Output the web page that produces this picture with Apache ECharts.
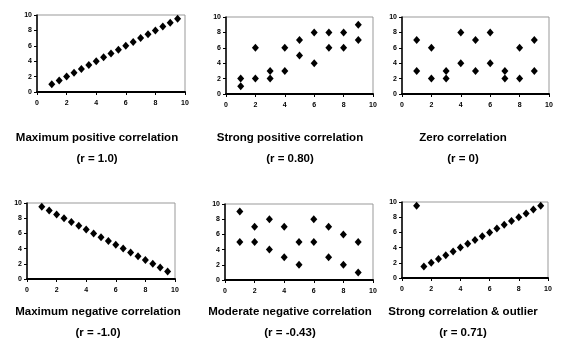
<!DOCTYPE html>
<html>
<head>
<meta charset="utf-8">
<script src="https://cdn.jsdelivr.net/npm/echarts@6/dist/echarts.min.js"></script>
<style>
  html, body { margin: 0; padding: 0; background: #fff; }
  #chart { width: 562px; height: 352px; }
</style>
</head>
<body>
<div id="chart"></div>
<script>
  // panel data
  var maxPositive = [[1,1],[1.5,1.5],[2,2],[2.5,2.5],[3,3],[3.5,3.5],[4,4],[4.5,4.5],[5,5],
    [5.5,5.5],[6,6],[6.5,6.5],[7,7],[7.5,7.5],[8,8],[8.5,8.5],[9,9],[9.5,9.5]]
  var strongPositive = [[1,2],[1,1],[2,6],[2,2],[3,3],[3,2],[4,6],[4,3],[5,7],[5,5],
    [6,8],[6,4],[7,8],[7,6],[8,8],[8,6],[9,9],[9,7]]
  var zeroCorr = [[1,7],[1,3],[2,6],[2,2],[3,3],[3,2],[4,8],[4,4],[5,7],[5,3],
    [6,8],[6,4],[7,3],[7,2],[8,6],[8,2],[9,7],[9,3]]
  var maxNegative = [[1,9.5],[1.5,9],[2,8.5],[2.5,8],[3,7.5],[3.5,7],[4,6.5],[4.5,6],[5,5.5],
    [5.5,5],[6,4.5],[6.5,4],[7,3.5],[7.5,3],[8,2.5],[8.5,2],[9,1.5],[9.5,1]]
  var moderateNegative = [[1,9],[1,5],[2,7],[2,5],[3,8],[3,4],[4,7],[4,3],[5,5],[5,2],
    [6,8],[6,5],[7,7],[7,3],[8,6],[8,2],[9,5],[9,1]]
  var withOutlier = [[1,9.5],[1.5,1.5],[2,2],[2.5,2.5],[3,3],[3.5,3.5],[4,4],[4.5,4.5],[5,5],
    [5.5,5.5],[6,6],[6.5,6.5],[7,7],[7.5,7.5],[8,8],[8.5,8.5],[9,9],[9.5,9.5]]

  var titles = ['Maximum positive correlation', 'Strong positive correlation', 'Zero correlation',
    'Maximum negative correlation', 'Moderate negative correlation', 'Strong correlation & outlier']
  var rValues = ['(r = 1.0)', '(r = 0.80)', '(r = 0)', '(r = -1.0)', '(r = -0.43)', '(r = 0.71)']
  var panels = [maxPositive, strongPositive, zeroCorr, maxNegative, moderateNegative, withOutlier]

  // layout of each plot box (pixels)
  var boxes = [
    {left: 37, top: 15, width: 148, height: 77},
    {left: 226, top: 17, width: 147, height: 77},
    {left: 402, top: 17, width: 147, height: 77},
    {left: 27, top: 203, width: 148, height: 76},
    {left: 225, top: 204, width: 148, height: 76},
    {left: 402, top: 202, width: 146, height: 76}
  ]
  var titlePos = [[97, 132], [290, 132], [463, 132], [98, 306], [290, 306], [463, 306]]

  var chart = echarts.init(document.getElementById('chart'))
  var tickFont = {fontSize: 7, fontWeight: 'bold', color: '#000', fontFamily: 'Liberation Sans'}
  var headFont = {fontSize: 11.5, fontWeight: 'bold', color: '#000', fontFamily: 'Liberation Sans'}

  var grid = [], xAxis = [], yAxis = [], series = [], title = []
  panels.forEach(function (data, i) {
    grid.push(Object.assign({show: true, borderColor: '#999', borderWidth: 1, backgroundColor: '#fff'}, boxes[i]))
    xAxis.push({
      gridIndex: i, type: 'value', min: 0, max: 10, interval: 2,
      axisLine: {lineStyle: {color: '#000', width: 2}},
      axisTick: {show: true, length: 3, lineStyle: {color: '#000'}},
      splitLine: {show: false},
      axisLabel: Object.assign({margin: 8}, tickFont)
    })
    yAxis.push({
      gridIndex: i, type: 'value', min: 0, max: 10, interval: 2,
      axisLine: {show: true, lineStyle: {color: '#000', width: 1.5}},
      axisTick: {show: true, length: 3, lineStyle: {color: '#000'}},
      splitLine: {show: false},
      axisLabel: Object.assign({margin: 5}, tickFont)
    })
    series.push({
      type: 'scatter', xAxisIndex: i, yAxisIndex: i,
      symbol: 'diamond', symbolSize: [7, 8],
      itemStyle: {color: '#000', opacity: 1},
      data: data
    })
    title.push({
      text: titles[i], subtext: rValues[i],
      left: titlePos[i][0], top: titlePos[i][1], textAlign: 'center',
      padding: 0, itemGap: 9,
      textStyle: headFont,
      subtextStyle: headFont
    })
  })

  chart.setOption({
    backgroundColor: '#fff',
    animation: false,
    title: title,
    grid: grid,
    xAxis: xAxis,
    yAxis: yAxis,
    series: series
  })
</script>
</body>
</html>
